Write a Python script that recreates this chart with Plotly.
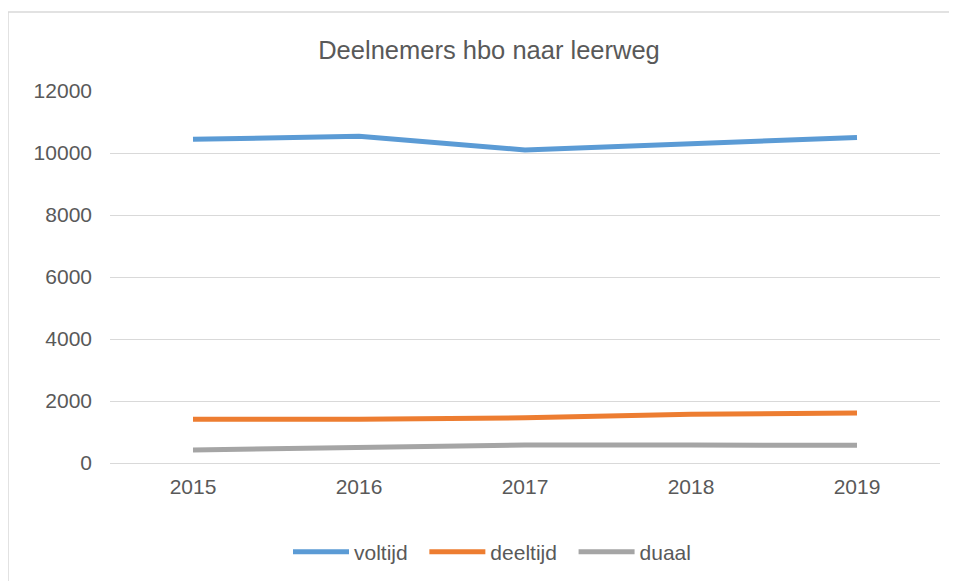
import plotly.graph_objects as go

YEARS = ["2015", "2016", "2017", "2018", "2019"]
VOLTIJD = [10440, 10540, 10100, 10300, 10500]
DEELTIJD = [1410, 1410, 1460, 1570, 1610]
DUAAL = [420, 490, 580, 580, 570]
Y_TICKS = [0, 2000, 4000, 6000, 8000, 10000, 12000]

SERIES = [
    ("voltijd", VOLTIJD, "#5B9BD5"),
    ("deeltijd", DEELTIJD, "#ED7D31"),
    ("duaal", DUAAL, "#A5A5A5"),
]
TEXT = "#595959"
GRID = "#D9D9D9"
FONT = "Liberation Sans, Arial, sans-serif"

# the page body adds an 8px margin, so pixel targets are shifted by -8
OFF = 8
L, R, T, B = 110 - OFF, 940 - OFF, 91 - OFF, 463 - OFF
W, H = 957 - OFF, 581 - OFF
PW, PH = R - L, B - T

fig = go.Figure()
for name, values, color in SERIES:
    fig.add_trace(go.Scatter(x=YEARS, y=values, name=name + "\u00a0\u00a0", mode="lines",
                             line=dict(color=color, width=5)))

# chart area border (Excel style): only top and left edges are inside the picture
bx0 = (8 - OFF - L) / PW
by1 = (B - (12 - OFF)) / PH
fig.add_shape(type="line", xref="paper", yref="paper", x0=bx0, x1=(1000 - L) / PW,
              y0=by1, y1=by1, line=dict(color=GRID, width=1.5), layer="below")
fig.add_shape(type="line", xref="paper", yref="paper", x0=bx0, x1=bx0,
              y0=(B - 640) / PH, y1=by1, line=dict(color=GRID, width=1.5), layer="below")

fig.update_xaxes(type="category", range=[-0.5, 4.5], showgrid=False,
                 showline=False, zeroline=False, ticks="",
                 ticklabelstandoff=9, tickfont=dict(size=21, color=TEXT))
fig.update_yaxes(range=[0, 12000], tickvals=Y_TICKS, tickformat="d", showgrid=True,
                 gridcolor=GRID, gridwidth=1.3, zeroline=True, zerolinecolor=GRID,
                 zerolinewidth=1.3, showline=False, ticks="",
                 ticklabelstandoff=17, tickfont=dict(size=21, color=TEXT))

fig.update_layout(
    width=W, height=H,
    margin=dict(l=L, r=W - R, t=T, b=H - B, autoexpand=False),
    paper_bgcolor="white", plot_bgcolor="white",
    font=dict(family=FONT, color=TEXT),
    title=dict(text="Deelnemers hbo naar leerweg", xref="container", x=(489 - OFF) / W,
               xanchor="center", yref="container", y=1 - (50 - OFF) / H, yanchor="middle",
               font=dict(size=25.5, color=TEXT)),
    showlegend=True,
    legend=dict(orientation="h", xref="paper", x=(288 - OFF - L) / PW, xanchor="left",
                yref="paper", y=(B - (552 - OFF)) / PH, yanchor="middle",
                font=dict(size=21, color=TEXT), itemwidth=56,
                bgcolor="rgba(0,0,0,0)"),
    hovermode=False,
)

fig.write_html("out.html")
